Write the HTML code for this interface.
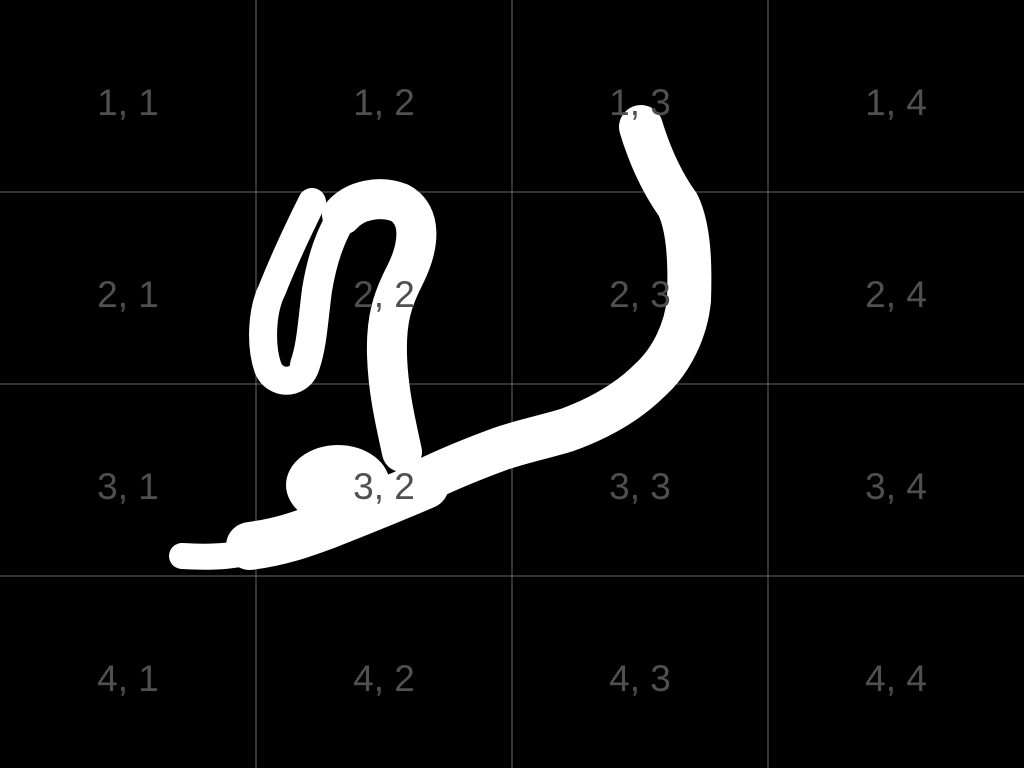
<!DOCTYPE html>
<html>
<head>
<meta charset="utf-8">
<style>
  html,body{margin:0;padding:0;background:#000;}
  svg{display:block;}
  text{font-family:"Liberation Sans",sans-serif;font-size:37px;fill:#505050;text-anchor:middle;}
</style>
</head>
<body>
<svg id="chart" width="1024" height="768" viewBox="0 0 1024 768">
  <rect x="0" y="0" width="1024" height="768" fill="#000"/>
  <g id="grid" stroke="#666" stroke-width="1"></g>
  <g fill="none" stroke="#fff" stroke-linecap="round" stroke-linejoin="round">
    <path stroke-width="44"
      d="M641,127 C648,150 660,180 678,205 C690,230 690,270 689,300 C686,330 672,360 650,380 C628,402 600,418 567,430 C540,438 520,442 500,449 C470,460 440,472 410,488"/>
    <path stroke-width="48"
      d="M425,485 C390,500 360,512 327,525 C300,535 280,542 250,546"/>
    <path stroke-width="26"
      d="M265,548 C240,556 215,558 182,556"/>
    <ellipse cx="338" cy="485" rx="52" ry="40" fill="#fff" stroke="none"/>
    <path stroke-width="40"
      d="M402,452 C395,420 388,390 387,355 C386,320 392,300 405,275 C420,245 422,215 400,203 C380,195 355,200 342,215"/>
    <path stroke-width="30"
      d="M345,212 C330,235 322,260 317,290 C313,320 312,345 305,365"/>
    <path stroke-width="28"
      d="M305,368 C298,385 275,385 268,368 C260,345 262,310 272,290 C284,260 298,230 312,202"/>
  </g>
  <g id="labels"></g>
</svg>
<script>
const rows = [1, 2, 3, 4];
const cols = [1, 2, 3, 4];
const W = 1024, H = 768;
const svgNS = "http://www.w3.org/2000/svg";
const grid = document.getElementById('grid');
const labels = document.getElementById('labels');
const cw = W / cols.length, ch = H / rows.length;
for (let i = 1; i < cols.length; i++) {
  const l = document.createElementNS(svgNS, 'line');
  l.setAttribute('x1', i * cw); l.setAttribute('x2', i * cw);
  l.setAttribute('y1', 0); l.setAttribute('y2', H);
  
  
  grid.appendChild(l);
}
for (let j = 1; j < rows.length; j++) {
  const l = document.createElementNS(svgNS, 'line');
  l.setAttribute('y1', j * ch); l.setAttribute('y2', j * ch);
  l.setAttribute('x1', 0); l.setAttribute('x2', W);
  
  
  grid.appendChild(l);
}
rows.forEach((r, ri) => {
  cols.forEach((c, ci) => {
    const t = document.createElementNS(svgNS, 'text');
    t.setAttribute('x', ci * cw + cw / 2);
    t.setAttribute('y', ri * ch + ch / 2 + 19);
    t.textContent = r + ', ' + c;
    
    
    labels.appendChild(t);
  });
});
</script>
</body>
</html>
